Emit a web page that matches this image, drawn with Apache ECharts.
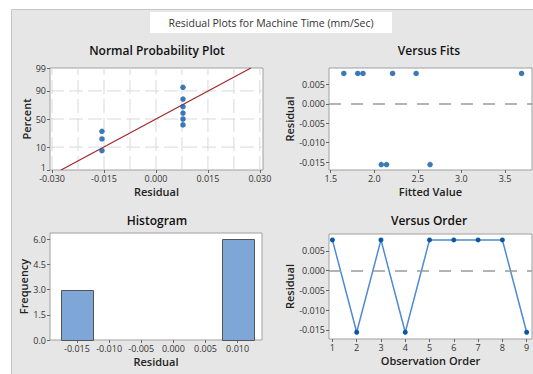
<!DOCTYPE html>
<html>
<head>
<meta charset="utf-8">
<script src="https://cdn.jsdelivr.net/npm/echarts@6/dist/echarts.min.js"></script>
<style>
  html, body { margin: 0; padding: 0; background: #fff; }
  #chart { width: 533px; height: 374px; }
</style>
</head>
<body>
<div id="chart"></div>
<script>
// residuals (in observation order) and their fitted values
const orderNo = [1, 2, 3, 4, 5, 6, 7, 8, 9];
const residuals = [0.0078, -0.0156, 0.0078, -0.0156, 0.0078, 0.0078, 0.0078, 0.0078, -0.0156];
const fittedValues = [1.65, 2.08, 1.81, 2.14, 1.87, 2.21, 2.48, 3.69, 2.64];

// normal probability plot: sorted residuals and plotting percents
const probResiduals = [-0.0156, -0.0156, -0.0156, 0.0078, 0.0078, 0.0078, 0.0078, 0.0078, 0.0078];
const probPercents = [7.4, 18.1, 28.7, 39.4, 50.0, 60.6, 71.3, 81.9, 92.6];
const fitLineResid = [-0.0274, 0.0274];
const fitLinePercent = [1, 99];

// histogram bins
const histMids = [-0.015, -0.010, -0.005, 0.000, 0.005, 0.010];
const histCounts = [3, 0, 0, 0, 0, 6];
const binWidth = 0.005;

// tick labels
const percentTicks = [1, 10, 50, 90, 99];
const probXTicks = [-0.030, -0.015, 0, 0.015, 0.030];
const residTicks = [-0.015, -0.010, -0.005, 0, 0.005];
const fitsXTicks = [1.5, 2.0, 2.5, 3.0, 3.5];
const histXTicks = [-0.015, -0.010, -0.005, 0, 0.005, 0.010];
const histYTicks = [0, 1.5, 3.0, 4.5, 6.0];

// probability scale (inverse normal cdf)
function probit(p) {
  const a = [-3.969683028665376e+01, 2.209460984245205e+02, -2.759285104469687e+02, 1.383577518672690e+02, -3.066479806614716e+01, 2.506628277459239e+00];
  const b = [-5.447609879822406e+01, 1.615858368580409e+02, -1.556989798598866e+02, 6.680131188771972e+01, -1.328068155288572e+01];
  const c = [-7.784894002430293e-03, -3.223964580411365e-01, -2.400758277161838e+00, -2.549732539343734e+00, 4.374664141464968e+00, 2.938163982698783e+00];
  const d = [7.784695709041462e-03, 3.224671290700398e-01, 2.445134137142996e+00, 3.754408661907416e+00];
  const plow = 0.02425;
  let q, r;
  if (p < plow) {
    q = Math.sqrt(-2 * Math.log(p));
    return (((((c[0] * q + c[1]) * q + c[2]) * q + c[3]) * q + c[4]) * q + c[5]) / ((((d[0] * q + d[1]) * q + d[2]) * q + d[3]) * q + 1);
  }
  if (p <= 1 - plow) {
    q = p - 0.5; r = q * q;
    return (((((a[0] * r + a[1]) * r + a[2]) * r + a[3]) * r + a[4]) * r + a[5]) * q / (((((b[0] * r + b[1]) * r + b[2]) * r + b[3]) * r + b[4]) * r + 1);
  }
  q = Math.sqrt(-2 * Math.log(1 - p));
  return -(((((c[0] * q + c[1]) * q + c[2]) * q + c[3]) * q + c[4]) * q + c[5]) / ((((d[0] * q + d[1]) * q + d[2]) * q + d[3]) * q + 1);
}
const z = pct => probit(pct / 100);
const zTicks = percentTicks.map(z);

const FONT = 'Open Sans';
const dotColor = '#0b57a8';
const tickLabel = { fontFamily: FONT, fontSize: 9, color: '#333', margin: 4 };
const axisName = { fontFamily: FONT, fontSize: 11, fontWeight: 600, color: '#222' };

// axis ranges
const probX = [-0.0306, 0.0309];
const probY = [z(1), z(99)];

function gridBox(left, top, width, height) {
  return { left, top, width, height, show: true, backgroundColor: '#fff', borderColor: '#a0a0a0', borderWidth: 1, containLabel: false, outerBoundsMode: 'none' };
}

function valAxis(gridIndex, range, ticks, fmt, name, nameGap, position) {
  return {
    type: 'value', gridIndex, min: range[0], max: range[1], position,
    name, nameLocation: 'middle', nameGap, nameTextStyle: axisName,
    axisLine: { show: false, onZero: false },
    axisTick: { show: true, customValues: ticks, length: 3, lineStyle: { color: '#666' } },
    axisLabel: Object.assign({ customValues: ticks, formatter: fmt, rich: { low: { padding: [0, 0, 6, 0] } } }, tickLabel),
    splitLine: { show: false },
    minorTick: { show: false },
    minorSplitLine: { show: false }
  };
}

function zeroLine() {
  return {
    silent: true, symbol: 'none', label: { show: false },
    lineStyle: { color: '#9a9a9a', type: [12, 10], width: 1.5 },
    data: [{ yAxis: 0 }]
  };
}

// light dashed grid of the probability plot, drawn through the plot's own axes
const probGridX = [-0.030, -0.0225, -0.015, -0.0075, 0, 0.0075, 0.015, 0.0225, 0.030];
const probGridY = [10, 50, 90];
function gridSeries(points) {
  return {
    type: 'line', xAxisIndex: 0, yAxisIndex: 0, z: 1, silent: true,
    data: points, symbol: 'none', showSymbol: false, label: { show: false },
    lineStyle: { color: '#d9d9d9', type: [14, 5], width: 1 }
  };
}
const probGrid = probGridX.map(x => gridSeries([[x, probY[0]], [x, probY[1]]]))
  .concat(probGridY.map(p => gridSeries([[probX[0], z(p)], [probX[1], z(p)]])));

const chart = echarts.init(document.getElementById('chart'), null, { renderer: 'svg' });

const subTitle = (text, x, y) => ({
  type: 'text', x, y,
  style: { text, fontFamily: FONT, fontSize: 12, fontWeight: 600, fill: '#111', textAlign: 'center', textVerticalAlign: 'middle' }
});

const option = {
  animation: false,
  backgroundColor: '#fff',
  graphic: [
    { type: 'rect', z: -10, shape: { x: 11.5, y: 9.5, width: 530, height: 370 }, style: { fill: '#e6e6e6', stroke: '#c6c6c6', lineWidth: 1 } },
    { type: 'rect', z: -9, shape: { x: 150, y: 12, width: 242, height: 21 }, style: { fill: '#fff' } },
    { type: 'text', x: 271, y: 22.5, style: { text: 'Residual Plots for Machine Time (mm/Sec)', fontFamily: FONT, fontSize: 10.5, fill: '#333', textAlign: 'center', textVerticalAlign: 'middle' } },
    subTitle('Normal Probability Plot', 157, 50.5),
    subTitle('Versus Fits', 429, 50.5),
    subTitle('Histogram', 157, 220.5),
    subTitle('Versus Order', 429, 220.5)
  ],
  grid: [
    gridBox(50, 68, 213, 102),
    gridBox(329, 68, 203, 102),
    gridBox(50, 233, 212, 107),
    gridBox(329, 234, 203, 105)
  ],
  xAxis: [
    valAxis(0, probX, probXTicks, v => v.toFixed(3), 'Residual', 16, 'bottom'),
    valAxis(1, [1.48, 3.81], fitsXTicks, v => v.toFixed(1), 'Fitted Value', 16, 'bottom'),
    valAxis(2, [-0.0192, 0.0138], histXTicks, v => v.toFixed(3), 'Residual', 16, 'bottom'),
    valAxis(3, [0.86, 9.22], orderNo, v => String(v), 'Observation Order', 16, 'bottom')
  ],
  yAxis: [
    valAxis(0, probY, zTicks, v => {
      let best = 0;
      zTicks.forEach((t, i) => { if (Math.abs(t - v) < Math.abs(zTicks[best] - v)) best = i; });
      // lowest label sits a little above its tick, clear of the x labels
      return best === 0 ? '{low|' + percentTicks[best] + '}' : String(percentTicks[best]);
    }, 'Percent', 17, 'left'),
    valAxis(1, [-0.017, 0.0092], residTicks, v => v.toFixed(3), 'Residual', 31, 'left'),
    valAxis(2, [0, 6.36], histYTicks, v => v.toFixed(1), 'Frequency', 17, 'left'),
    valAxis(3, [-0.0173, 0.0093], residTicks, v => v.toFixed(3), 'Residual', 31, 'left')
  ],
  series: probGrid.concat([
    // normal probability plot: fitted line and points
    {
      type: 'line', xAxisIndex: 0, yAxisIndex: 0, z: 3,
      data: fitLineResid.map((r, i) => [r, z(fitLinePercent[i])]),
      symbol: 'none', showSymbol: false,
      lineStyle: { color: '#a3262b', width: 1.2 }
    },
    {
      type: 'scatter', xAxisIndex: 0, yAxisIndex: 0, z: 4,
      data: probResiduals.map((r, i) => [r, z(probPercents[i])]),
      symbol: 'circle', symbolSize: 5.5, itemStyle: { color: dotColor }
    },
    // versus fits
    {
      type: 'scatter', xAxisIndex: 1, yAxisIndex: 1, z: 4,
      data: fittedValues.map((f, i) => [f, residuals[i]]),
      symbol: 'circle', symbolSize: 5.5, itemStyle: { color: dotColor },
      markLine: zeroLine()
    },
    // histogram
    {
      type: 'custom', xAxisIndex: 2, yAxisIndex: 2,
      data: histMids.map((m, i) => [m, histCounts[i]]),
      renderItem: (params, api) => {
        const mid = api.value(0), cnt = api.value(1);
        if (!cnt) return { type: 'group', children: [] };
        const p0 = api.coord([mid - binWidth / 2, cnt]);
        const p1 = api.coord([mid + binWidth / 2, 0]);
        return {
          type: 'rect',
          shape: { x: Math.round(p0[0]) + 0.5, y: Math.round(p0[1]) + 0.5, width: Math.round(p1[0] - p0[0]), height: Math.round(p1[1] - p0[1]) },
          style: { fill: '#7ea7d8', stroke: '#555', lineWidth: 1 }
        };
      }
    },
    // versus order
    {
      type: 'line', xAxisIndex: 3, yAxisIndex: 3, z: 4,
      data: orderNo.map((o, i) => [o, residuals[i]]),
      symbol: 'circle', symbolSize: 5, showSymbol: true,
      itemStyle: { color: dotColor },
      lineStyle: { color: '#4f8ad0', width: 1.5 },
      markLine: zeroLine()
    }
  ])
};

chart.setOption(option);
</script>
</body>
</html>
